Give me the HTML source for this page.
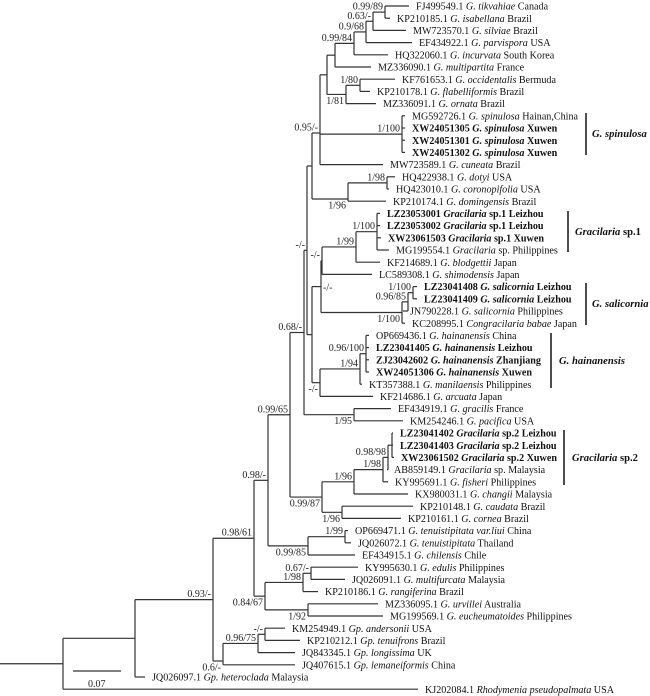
<!DOCTYPE html>
<html><head><meta charset="utf-8"><style>
html,body{margin:0;padding:0;background:#fff;}
svg{display:block;font-family:"Liberation Serif",serif;}
.lf{font-size:10.1px;fill:#111;}
.sp{font-size:10px;fill:#222;}
.cl{font-size:10.6px;font-weight:bold;font-style:italic;fill:#111;}
</style></head><body>
<svg id="s" width="650" height="696" viewBox="0 0 650 696" xmlns="http://www.w3.org/2000/svg">
<g id="lines" stroke="#333" stroke-width="1.2" fill="none"></g>
<g id="txt"></g>
<line x1="586" y1="113" x2="586" y2="155" stroke="#222" stroke-width="1.6"/>
<text class="cl" x="592" y="137">G. spinulosa</text>
<line x1="568" y1="211" x2="568" y2="252" stroke="#222" stroke-width="1.6"/>
<text class="cl" x="575" y="235"><tspan>Gracilaria</tspan><tspan font-style="normal"> sp.1</tspan></text>
<line x1="586" y1="283" x2="586" y2="325" stroke="#222" stroke-width="1.6"/>
<text class="cl" x="592" y="307">G. salicornia</text>
<line x1="551" y1="333" x2="551" y2="388" stroke="#222" stroke-width="1.6"/>
<text class="cl" x="559" y="364">G. hainanensis</text>
<line x1="564" y1="430" x2="564" y2="485" stroke="#222" stroke-width="1.6"/>
<text class="cl" x="572" y="461"><tspan>Gracilaria</tspan><tspan font-style="normal"> sp.2</tspan></text>
<line x1="73" y1="671" x2="121" y2="671" stroke="#333" stroke-width="1.2"/>
<text class="sp" x="88" y="687">0.07</text>
</svg>
<script>
var NS="http://www.w3.org/2000/svg";
var li=0;
function Y(i){return 6+i*12.2;}
function L(tx,t,b){return {leaf:1,tx:tx,t:t,b:b,y:Y(li++)};}
function N(x,lab,pos,ch,yo){return {x:x,lab:lab,pos:pos,c:ch,yo:yo};}
var tree=N(63,"","",[
 N(135,"","",[
  N(213,"0.93/-","a",[
   N(254,"0.98/61","a",[
    N(268,"0.98/-","a",[
     N(290,"0.99/65","a",[
      N(304,"0.68/-","a",[
       N(307,"-/-","a",[
        N(312,"","",[
         N(320,"0.95/-","a",[
          N(327,"","",[
           N(335,"","",[
            N(354,"0.99/84","a",[
             N(366,"0.9/68","a",[
              N(373,"0.63/-","a",[
               N(385,"0.99/89","a",[
                L(416,"FJ499549.1 *G. tikvahiae* Canada"),
                L(397,"KP210185.1 *G. isabellana* Brazil")]),
               L(413,"MW723570.1 *G. silviae* Brazil")]),
              L(419,"EF434922.1 *G. parvispora* USA")]),
             L(395,"HQ322060.1 *G. incurvata* South Korea")]),
            L(378,"MZ336090.1 *G. multipartita* France")]),
           N(346,"1/81","b",[
            N(360,"1/80","a",[
             L(402,"KF761653.1 *G. occidentalis* Bermuda"),
             L(377,"KP210178.1 *G. flabelliformis* Brazil")]),
            L(383,"MZ336091.1 *G. ornata* Brazil")])]),
          N(402,"1/100","a",[
           L(412,"MG592726.1 *G. spinulosa* Hainan,China"),
           L(412,"XW24051305 *G. spinulosa* Xuwen",1),
           L(412,"XW24051301 *G. spinulosa* Xuwen",1),
           L(412,"XW24051302 *G. spinulosa* Xuwen",1)]),
          L(390,"MW723589.1 *G. cuneata* Brazil")],133),
         N(348,"1/96","b",[
          N(387,"1/98","a",[
           L(402,"HQ422938.1 *G. dotyi* USA"),
           L(396,"HQ423010.1 *G. coronopifolia* USA")]),
          L(393,"KP210174.1 *G. domingensis* Brazil")],199)]),
        N(312,"","",[
         N(321,"-/-","r",[
          N(322,"-/-","a",[
           N(356,"1/99","a",[
            N(377,"1/100","a",[
             L(387,"LZ23053001 *Gracilaria* sp.1 Leizhou",1),
             L(387,"LZ23053002 *Gracilaria* sp.1 Leizhou",1),
             L(388,"XW23061503 *Gracilaria* sp.1 Xuwen",1),
             L(396,"MG199554.1 *Gracilaria* sp. Philippines")]),
            L(387,"KF214689.1 *G. blodgettii* Japan")]),
           L(379,"LC589308.1 *G. shimodensis* Japan")]),
          N(402,"1/100","b",[
           N(408,"0.96/85","a",[
            N(413,"1/100","a",[
             L(424,"LZ23041408 *G. salicornia* Leizhou",1),
             L(424,"LZ23041409 *G. salicornia* Leizhou",1)]),
            L(410,"JN790228.1 *G. salicornia* Philippines")]),
           L(412,"KC208995.1 *Congracilaria babae* Japan")])]),
         N(320,"-/-","b",[
          N(360,"1/94","a",[
           N(366,"0.96/100","a",[
            L(376,"OP669436.1 *G. hainanensis* China"),
            L(376,"LZ23041405 *G. hainanensis* Leizhou",1),
            L(376,"ZJ23042602 *G. hainanensis* Zhanjiang",1),
            L(376,"XW24051306 *G. hainanensis* Xuwen",1)]),
           L(369,"KT357388.1 *G. manilaensis* Philippines")]),
          L(380,"KF214686.1 *G. arcuata* Japan")])])]),
       N(354,"1/95","b",[
        L(398,"EF434919.1 *G. gracilis* France"),
        L(410,"KM254246.1 *G. pacifica* USA")])]),
      N(322,"0.99/87","b",[
       N(354,"1/96","a",[
        N(383,"1/98","a",[
         N(388,"0.98/98","a",[
          N(392,"","",[
           L(400,"LZ23041402 *Gracilaria* sp.2 Leizhou",1),
           L(400,"LZ23041403 *Gracilaria* sp.2 Leizhou",1),
           L(401,"XW23061502 *Gracilaria* sp.2 Xuwen",1)]),
          L(394,"AB859149.1 *Gracilaria* sp. Malaysia")]),
         L(395,"KY995691.1 *G. fisheri* Philippines")]),
        L(415,"KX980031.1 *G. changii* Malaysia")]),
       N(342,"1/96","b",[
        L(420,"KP210148.1 *G. caudata* Brazil"),
        L(408,"KP210161.1 *G. cornea* Brazil")])])]),
     N(308,"0.99/85","b",[
      N(345,"1/99","a",[
       L(355,"OP669471.1  *G. tenuistipitata var.liui* China"),
       L(358,"JQ026072.1 *G. tenuistipitata* Thailand")]),
      L(362,"EF434915.1 *G. chilensis* Chile")])]),
    N(265,"0.84/67","b",[
     N(303,"1/98","a",[
      N(311,"0.67/-","a",[
       L(365,"KY995630.1 *G. edulis* Philippines"),
       L(352,"JQ026091.1 *G. multifurcata* Malaysia")]),
      L(325,"KP210186.1 *G. rangiferina* Brazil")]),
     N(308,"1/92","b",[
      L(385,"MZ336095.1 *G. urvillei* Australia"),
      L(390,"MG199569.1 *G. eucheumatoides* Philippines")])])]),
   N(223,"0.6/-","b",[
    N(258,"0.96/75","a",[
     N(265,"-/-","a",[
      L(292,"KM254949.1 *Gp. andersonii* USA"),
      L(307,"KP210212.1 *Gp. tenuifrons* Brazil")]),
     L(302,"JQ843345.1 *Gp. longissima* UK")]),
    L(302,"JQ407615.1 *Gp. lemaneiformis* China")],661)]),
  L(152,"JQ026097.1 *Gp. heteroclada* Malaysia")]),
 L(425,"KJ202084.1 *Rhodymenia pseudopalmata* USA")]);

var G=document.getElementById("lines"),T=document.getElementById("txt");
function ln(x1,y1,x2,y2){var e=document.createElementNS(NS,"line");e.setAttribute("x1",x1);e.setAttribute("y1",y1);e.setAttribute("x2",x2);e.setAttribute("y2",y2);G.appendChild(e);}
function txt(x,y,s,cls,b,anchor){var e=document.createElementNS(NS,"text");e.setAttribute("x",x);e.setAttribute("y",y);e.setAttribute("class",cls);if(b)e.setAttribute("font-weight","bold");if(anchor)e.setAttribute("text-anchor",anchor);
 var parts=s.split("*");for(var i=0;i<parts.length;i++){if(!parts[i])continue;var t=document.createElementNS(NS,"tspan");t.textContent=parts[i];if(i%2)t.setAttribute("font-style","italic");e.appendChild(t);}
 e.setAttribute("xml:space","preserve");T.appendChild(e);}
function layout(n){if(n.leaf)return n.y;var ys=n.c.map(layout);n.y=(n.yo!==undefined)?n.yo:(ys[0]+ys[ys.length-1])/2;return n.y;}
function draw(n,px){
 if(n.leaf){ln(px,n.y,n.tx-7,n.y);txt(n.tx,n.y+3.6,n.t,"lf",n.b);return;}
 ln(px,n.y,n.x,n.y);
 var f=n.c[0].y,l=n.c[n.c.length-1].y;ln(n.x,Math.min(f,n.y),n.x,Math.max(l,n.y));
 if(n.lab){if(n.pos=="a")txt(n.x-2,n.y-2.5,n.lab,"sp",0,"end");else if(n.pos=="b")txt(n.x-2,n.y+9.5,n.lab,"sp",0,"end");else txt(n.x+2,n.y+4,n.lab,"sp",0,null);}
 n.c.forEach(function(c){draw(c,n.x);});
}
layout(tree);
draw(tree,0);
</script>
</body></html>
